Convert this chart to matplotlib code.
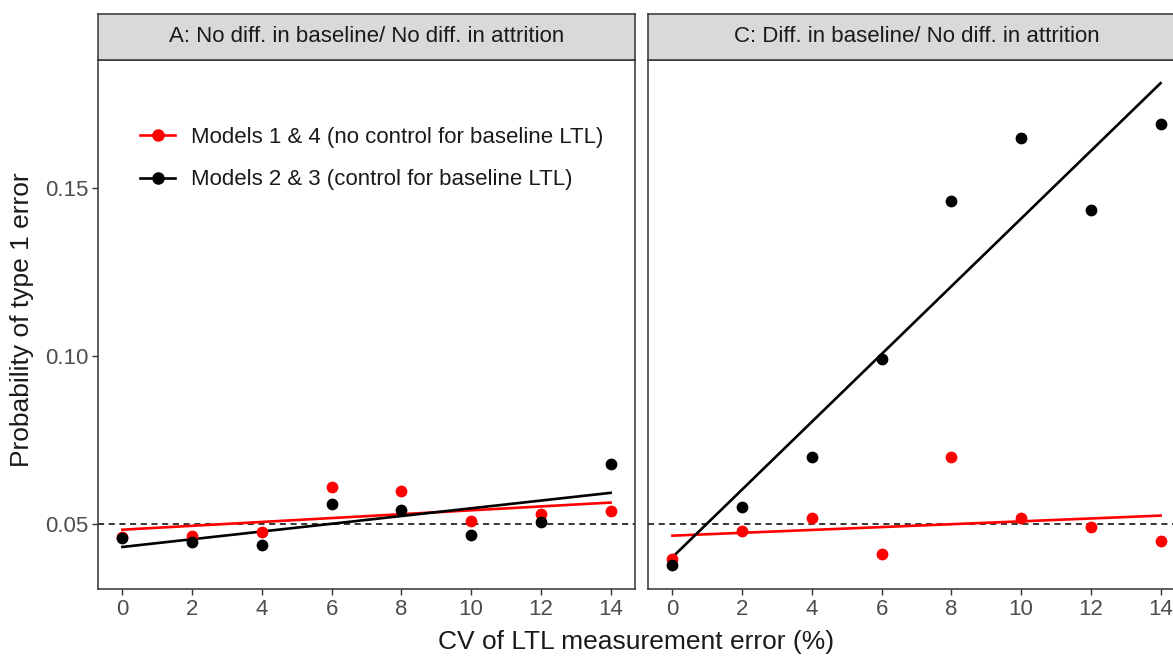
import numpy as np
import matplotlib
matplotlib.use("Agg")
import matplotlib.pyplot as plt
from matplotlib.lines import Line2D

plt.rcParams['font.family'] = ['Liberation Sans', 'DejaVu Sans']

# Data
cv = [0, 2, 4, 6, 8, 10, 12, 14]

# Panel A: no diff. in baseline / no diff. in attrition
a_red = [0.0460, 0.0462, 0.0476, 0.0608, 0.0598, 0.0507, 0.0529, 0.0539]
a_black = [0.0457, 0.0444, 0.0435, 0.0560, 0.0542, 0.0467, 0.0505, 0.0679]

# Panel C: diff. in baseline / no diff. in attrition
c_red = [0.0393, 0.0479, 0.0517, 0.0410, 0.0700, 0.0517, 0.0489, 0.0447]
c_black = [0.0376, 0.0549, 0.0700, 0.0991, 0.1461, 0.1650, 0.1435, 0.1693]

titles = ["A: No diff. in baseline/ No diff. in attrition",
          "C: Diff. in baseline/ No diff. in attrition"]
labels = ["Models 1 & 4 (no control for baseline LTL)",
          "Models 2 & 3 (control for baseline LTL)"]
yticks = [0.05, 0.10, 0.15]

W, H = 1173, 657
fig = plt.figure(figsize=(W / 100, H / 100), dpi=100)

def fx(px):
    return px / W

def fy(py):
    return 1 - py / H

panel_w = fx(635) - fx(98)
panel_h = fy(60) - fy(589)
strip_h = fy(14) - fy(60)
lefts = [fx(98), fx(648)]
edge = '#333333'
tick_col = '#4D4D4D'
txt_col = '#1A1A1A'

for i, (red, black) in enumerate([(a_red, a_black), (c_red, c_black)]):
    ax = fig.add_axes([lefts[i], fy(589), panel_w, panel_h])
    ax.axhline(0.05, color='black', linestyle=(0, (4, 3)), linewidth=1.1, zorder=1)
    for vals, col in [(red, 'red'), (black, 'black')]:
        x = np.array(cv, dtype=float)
        y = np.array(vals)
        slope, icpt = np.polyfit(x, y, 1)
        xs = np.array([min(cv), max(cv)], dtype=float)
        ax.plot(xs, icpt + slope * xs, color=col, linewidth=1.9, zorder=2)
        ax.scatter(x, y, s=72, color=col, zorder=3, linewidths=0)
    ax.set_xlim(-0.7, 14.7)
    ax.set_ylim(0.0305, 0.1883)
    ax.set_xticks(cv)
    ax.set_yticks(yticks)
    ax.set_yticklabels([f"{v:.2f}" for v in yticks])
    ax.tick_params(axis='both', colors=edge, labelcolor=tick_col, labelsize=16,
                   length=4, width=1, pad=3)
    if i == 1:
        ax.tick_params(axis='y', left=False, labelleft=False)
    for s in ax.spines.values():
        s.set_color(edge)
        s.set_linewidth(1.1)

    sax = fig.add_axes([lefts[i], fy(60), panel_w, strip_h])
    sax.set_facecolor('#D9D9D9')
    sax.set_xticks([])
    sax.set_yticks([])
    for s in sax.spines.values():
        s.set_color(edge)
        s.set_linewidth(1.1)
    sax.text(0.5, 0.5, titles[i], ha='center', va='center', fontsize=16,
             color=txt_col, transform=sax.transAxes)

    if i == 0:
        handles = [Line2D([0], [0], color='red', marker='o', markersize=8, linewidth=1.9),
                   Line2D([0], [0], color='black', marker='o', markersize=8, linewidth=1.9)]
        ax.legend(handles, labels, loc='upper left', bbox_to_anchor=(0.078, 0.874),
                  frameon=False, fontsize=16, labelspacing=0.98, handlelength=1.6,
                  handletextpad=0.7, borderpad=0, borderaxespad=0, labelcolor=txt_col)

fig.text(fx(22), fy(320), "Probability of type 1 error", ha='center', va='center',
         rotation=90, fontsize=19, color=txt_col)
fig.text(fx(636), fy(642), "CV of LTL measurement error (%)", ha='center', va='center',
         fontsize=19, color=txt_col)

fig.savefig("out.png", dpi=100)
